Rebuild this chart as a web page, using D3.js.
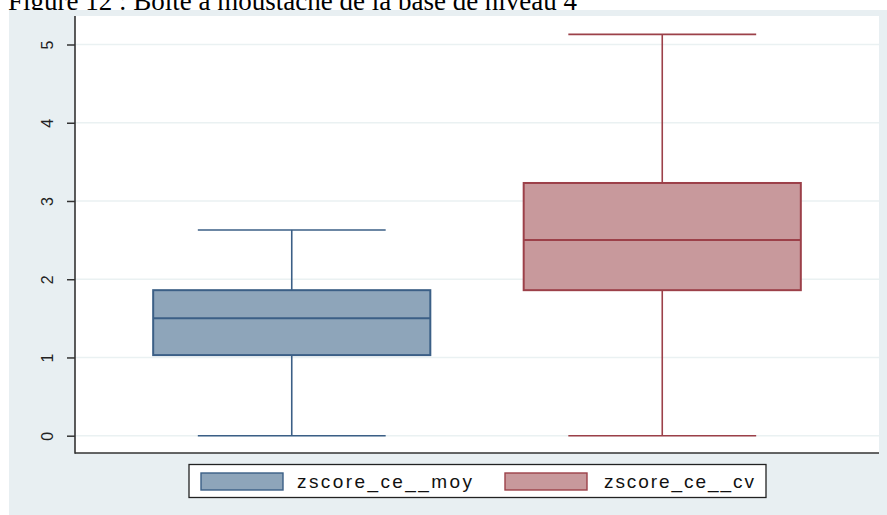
<!DOCTYPE html>
<html>
<head>
<meta charset="utf-8">
<script src="https://cdn.jsdelivr.net/npm/d3@7"></script>
<style>
  html, body { margin: 0; padding: 0; background: #ffffff; }
  svg { display: block; }
</style>
</head>
<body>
<script>
// Box plot summary statistics, one entry per variable
const categories = ["zscore_ce__moy", "zscore_ce__cv"];
const lowerWhisker = [0, 0];
const q1 = [1.03, 1.86];
const median = [1.50, 2.50];
const q3 = [1.86, 3.23];
const upperWhisker = [2.63, 5.13];
const yTicks = [0, 1, 2, 3, 4, 5];
const titleText = "Figure 12 : Boîte à moustache de la base de niveau 4";

const fills = ["#8ea5ba", "#c8999c"];
const strokes = ["#3b5f86", "#9c4049"];

const W = 887, H = 515;
const plot = { left: 75, right: 879, top: 16, bottom: 453 };

const svg = d3.select("body").append("svg")
  .attr("width", W).attr("height", H);

// Caption line above the graph
svg.append("text")
  .attr("x", 8).attr("y", 10)
  .attr("font-family", "'Liberation Serif', 'Times New Roman', serif")
  .attr("font-size", 27)
  .attr("fill", "#000")
  .text(titleText);

// Graph background and plot region
svg.append("rect")
  .attr("x", 9).attr("y", 10)
  .attr("width", W - 9).attr("height", H - 10)
  .attr("fill", "#e8eff2");
svg.append("rect")
  .attr("x", plot.left).attr("y", plot.top)
  .attr("width", plot.right - plot.left).attr("height", plot.bottom - plot.top)
  .attr("fill", "#ffffff");

const y = d3.scaleLinear().domain([0, 5]).range([435.7, 44.5]);
const x = d3.scalePoint().domain(categories)
  .range([plot.left, plot.right]).padding(0.585);
const step = x.step();
const boxW = step * 0.748;
const capW = step * 0.507;

// Horizontal grid lines
svg.append("g").selectAll("line").data(yTicks).join("line")
  .attr("x1", plot.left).attr("x2", plot.right)
  .attr("y1", d => y(d)).attr("y2", d => y(d))
  .attr("stroke", "#eaf1f2").attr("stroke-width", 1.5);

// Boxes, medians and whiskers
const rows = categories.map((c, i) => ({
  c, i, lo: lowerWhisker[i], q1: q1[i], med: median[i], q3: q3[i], hi: upperWhisker[i]
}));
const g = svg.append("g").selectAll("g").data(rows).join("g");

g.append("line")
  .attr("x1", d => x(d.c)).attr("x2", d => x(d.c))
  .attr("y1", d => y(d.hi)).attr("y2", d => y(d.q3))
  .attr("stroke", d => strokes[d.i]).attr("stroke-width", 1.6);
g.append("line")
  .attr("x1", d => x(d.c)).attr("x2", d => x(d.c))
  .attr("y1", d => y(d.q1)).attr("y2", d => y(d.lo))
  .attr("stroke", d => strokes[d.i]).attr("stroke-width", 1.6);
g.append("line")
  .attr("x1", d => x(d.c) - capW / 2).attr("x2", d => x(d.c) + capW / 2)
  .attr("y1", d => y(d.hi)).attr("y2", d => y(d.hi))
  .attr("stroke", d => strokes[d.i]).attr("stroke-width", 1.6);
g.append("line")
  .attr("x1", d => x(d.c) - capW / 2).attr("x2", d => x(d.c) + capW / 2)
  .attr("y1", d => y(d.lo)).attr("y2", d => y(d.lo))
  .attr("stroke", d => strokes[d.i]).attr("stroke-width", 1.6);
g.append("rect")
  .attr("x", d => x(d.c) - boxW / 2)
  .attr("y", d => y(d.q3))
  .attr("width", boxW)
  .attr("height", d => y(d.q1) - y(d.q3))
  .attr("fill", d => fills[d.i])
  .attr("stroke", d => strokes[d.i]).attr("stroke-width", 2);
g.append("line")
  .attr("x1", d => x(d.c) - boxW / 2).attr("x2", d => x(d.c) + boxW / 2)
  .attr("y1", d => y(d.med)).attr("y2", d => y(d.med))
  .attr("stroke", d => strokes[d.i]).attr("stroke-width", 2);

// Y axis with rotated labels
const yAxis = d3.axisLeft(y).tickValues(yTicks).tickSize(8).tickPadding(0).tickFormat(d3.format("d"));
const ya = svg.append("g").attr("transform", `translate(${plot.left},0)`).call(yAxis);
ya.select(".domain").remove();
ya.selectAll(".tick line").attr("stroke", "#333").attr("stroke-width", 1.5);
ya.selectAll(".tick text")
  .attr("x", null).attr("dy", null)
  .attr("text-anchor", "middle")
  .attr("transform", "translate(-28,0) rotate(-90) translate(0,6)")
  .attr("font-family", "'Liberation Sans', Arial, sans-serif")
  .attr("font-size", 16)
  .attr("fill", "#222");

// Axis lines
svg.append("line")
  .attr("x1", plot.left).attr("x2", plot.left)
  .attr("y1", plot.top).attr("y2", plot.bottom + 0.75)
  .attr("stroke", "#333").attr("stroke-width", 1.6);
svg.append("line")
  .attr("x1", plot.left).attr("x2", plot.right)
  .attr("y1", plot.bottom).attr("y2", plot.bottom)
  .attr("stroke", "#333").attr("stroke-width", 1.6);

// Legend
const legend = svg.append("g");
legend.append("rect")
  .attr("x", 189).attr("y", 464.5)
  .attr("width", 577).attr("height", 33)
  .attr("fill", "#ffffff").attr("stroke", "#222").attr("stroke-width", 1.3);
const legendItems = [
  { sx: 201, tx: 297, tw: 175 },
  { sx: 505, tx: 604, tw: 150 }
];
const li = legend.selectAll("g.item").data(categories).join("g").attr("class", "item");
li.append("rect")
  .attr("x", (d, i) => legendItems[i].sx).attr("y", 473)
  .attr("width", 82).attr("height", 17)
  .attr("fill", (d, i) => fills[i])
  .attr("stroke", (d, i) => strokes[i]).attr("stroke-width", 1.4);
li.append("text")
  .attr("x", (d, i) => legendItems[i].tx).attr("y", 488)
  .attr("textLength", (d, i) => legendItems[i].tw)
  .attr("lengthAdjust", "spacing")
  .attr("font-family", "'Liberation Sans', Arial, sans-serif")
  .attr("font-size", 19)
  .attr("fill", "#111")
  .text(d => d);
</script>
</body>
</html>
